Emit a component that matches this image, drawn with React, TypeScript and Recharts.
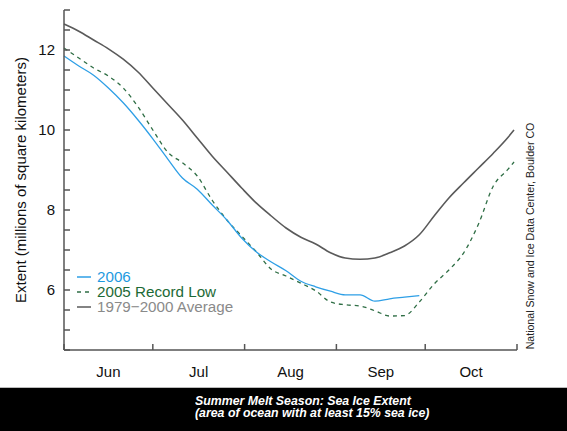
import { LineChart, Line, XAxis, YAxis } from "recharts";

// day index counted from June 1
const DAYS = [
  0, 5, 10, 15, 20, 25, 30, 35, 40, 45, 50, 55, 60, 65, 70, 75, 80, 85, 90,
  95, 100, 105, 110, 115, 120, 125, 130, 135, 140, 145, 150, 152,
];

const AVG_1979_2000 = [
  12.65, 12.47, 12.25, 12.03, 11.77, 11.45, 11.05, 10.65, 10.25, 9.8, 9.35,
  8.95, 8.55, 8.17, 7.85, 7.55, 7.32, 7.15, 6.93, 6.8, 6.77, 6.8, 6.93, 7.1,
  7.38, 7.85, 8.3, 8.68, 9.05, 9.42, 9.82, 10.0,
];

const Y2005 = [
  12.05, 11.8, 11.55, 11.35, 11.05, 10.58, 10.0, 9.45, 9.18, 8.85, 8.25, 7.75,
  7.35, 6.95, 6.52, 6.35, 6.17, 5.98, 5.7, 5.63, 5.6, 5.48, 5.35, 5.36, 5.7,
  6.15, 6.5, 6.93, 7.65, 8.6, 9.02, 9.2,
];

const Y2006 = [
  11.85, 11.6, 11.37, 11.05, 10.68, 10.25, 9.78, 9.28, 8.8, 8.52, 8.13, 7.75,
  7.3, 6.95, 6.7, 6.48, 6.22, 6.08, 5.97, 5.88, 5.88, 5.72, 5.78, 5.82, 5.86,
];

const MONTH_EDGES = [0, 30, 61, 92, 122, 153];
const MONTH_MIDS = [15, 45.5, 76.5, 107, 137.5];
const MONTH_LABELS = ["Jun", "Jul", "Aug", "Sep", "Oct"];

const Y_TICKS = [4.5, 5, 5.5, 6, 6.5, 7, 7.5, 8, 8.5, 9, 9.5, 10, 10.5, 11, 11.5, 12, 12.5, 13];
const Y_LABELED = [6, 8, 10, 12];

const data = DAYS.map((d, i) => ({
  day: d,
  avg: AVG_1979_2000[i],
  y2005: Y2005[i],
  y2006: Y2006[i] ?? null,
}));

const FONT = '"Liberation Sans", Arial, Helvetica, sans-serif';
const AXIS = "#555";

function XTick(props: any) {
  const { x, y, payload } = props;
  const v = payload.value;
  const mi = MONTH_MIDS.indexOf(v);
  if (mi >= 0) {
    return (
      <text x={x} y={y + 27} textAnchor="middle" fontSize={15} fill="#111" fontFamily={FONT}>
        {MONTH_LABELS[mi]}
      </text>
    );
  }
  return <line x1={x} x2={x} y1={y} y2={y - 6} stroke={AXIS} strokeWidth={1.5} />;
}

function YTick(props: any) {
  const { x, y, payload } = props;
  const v = payload.value;
  return (
    <g>
      <line x1={x} x2={x + 6} y1={y} y2={y} stroke={AXIS} strokeWidth={1.5} />
      {Y_LABELED.includes(v) && (
        <text x={x - 9} y={y + 5} textAnchor="end" fontSize={15} fill="#111" fontFamily={FONT}>
          {v}
        </text>
      )}
    </g>
  );
}

function LegendRow({ color, dashed, label, textColor, top }: any) {
  return (
    <div style={{ position: "absolute", left: 77, top, height: 14, display: "flex", alignItems: "center" }}>
      <svg width={16} height={4} style={{ marginRight: 4 }}>
        <line
          x1={0}
          x2={14}
          y1={2}
          y2={2}
          stroke={color}
          strokeWidth={1.5}
          strokeDasharray={dashed ? "4 4" : undefined}
        />
      </svg>
      <span
        style={{
          display: "inline-block",
          fontSize: 15.2,
          color: textColor,
          fontFamily: FONT,
          lineHeight: "14px",
          height: 14,
          whiteSpace: "nowrap",
        }}
      >
        {label}
      </span>
    </div>
  );
}

const bannerLine = {
  position: "absolute" as const,
  left: 195,
  height: 12,
  lineHeight: "12px",
  color: "#fff",
  fontFamily: FONT,
  fontWeight: "bold" as const,
  fontStyle: "italic" as const,
  fontSize: 13.2,
  whiteSpace: "nowrap" as const,
  transform: "scaleX(0.935)",
  transformOrigin: "left center",
};

export default function App() {
  return (
    <div style={{ position: "absolute", left: 0, top: 0, width: 567, height: 431, background: "#fff", overflow: "hidden" }}>
      <LineChart width={567} height={387} data={data} margin={{ top: 10, right: 50, left: 0, bottom: 0 }}>
        <XAxis
          dataKey="day"
          type="number"
          domain={[0, 153]}
          ticks={[...MONTH_EDGES, ...MONTH_MIDS]}
          interval={0}
          tick={<XTick />}
          tickLine={false}
          tickSize={0}
          tickMargin={0}
          height={37}
          axisLine={{ stroke: AXIS, strokeWidth: 1.5 }}
        />
        <YAxis
          type="number"
          domain={[4.5, 13]}
          ticks={Y_TICKS}
          interval={0}
          tick={<YTick />}
          tickLine={false}
          tickSize={0}
          tickMargin={0}
          width={64}
          axisLine={{ stroke: AXIS, strokeWidth: 1.5 }}
        />
        <Line
          type="monotone"
          dataKey="avg"
          stroke="#5a5a5a"
          strokeWidth={1.6}
          dot={false}
          isAnimationActive={false}
        />
        <Line
          type="monotone"
          dataKey="y2005"
          stroke="#2f6e45"
          strokeWidth={1.3}
          strokeDasharray="4 4"
          dot={false}
          isAnimationActive={false}
        />
        <Line
          type="monotone"
          dataKey="y2006"
          stroke="#2e9fe6"
          strokeWidth={1.3}
          dot={false}
          isAnimationActive={false}
        />
      </LineChart>

      {/* y axis title */}
      <div
        style={{
          position: "absolute",
          left: 20,
          top: 180,
          transform: "translate(-50%, -50%) rotate(-90deg)",
          whiteSpace: "nowrap",
          fontFamily: FONT,
          fontSize: 15,
          color: "#111",
        }}
      >
        Extent (millions of square kilometers)
      </div>

      {/* source credit */}
      <div
        style={{
          position: "absolute",
          left: 530,
          top: 236,
          transform: "translate(-50%, -50%) rotate(-90deg)",
          whiteSpace: "nowrap",
          fontFamily: FONT,
          fontSize: 10.6,
          color: "#222",
        }}
      >
        National Snow and Ice Data Center, Boulder CO
      </div>

      <LegendRow color="#2e9fe6" label="2006" textColor="#1e9ae0" top={270} />
      <LegendRow color="#2f6e45" dashed label="2005 Record Low" textColor="#1d6a36" top={285} />
      <LegendRow color="#5a5a5a" label="1979−2000 Average" textColor="#8a8a8a" top={300} />

      <div
        style={{
          position: "absolute",
          left: 0,
          top: 387,
          width: 567,
          height: 44,
          background: "#000",
          borderTop: "1px solid #bbb",
        }}
      >
        <div style={{ ...bannerLine, top: 7 }}>Summer Melt Season: Sea Ice Extent</div>
        <div style={{ ...bannerLine, top: 19 }}>(area of ocean with at least 15% sea ice)</div>
      </div>
    </div>
  );
}
